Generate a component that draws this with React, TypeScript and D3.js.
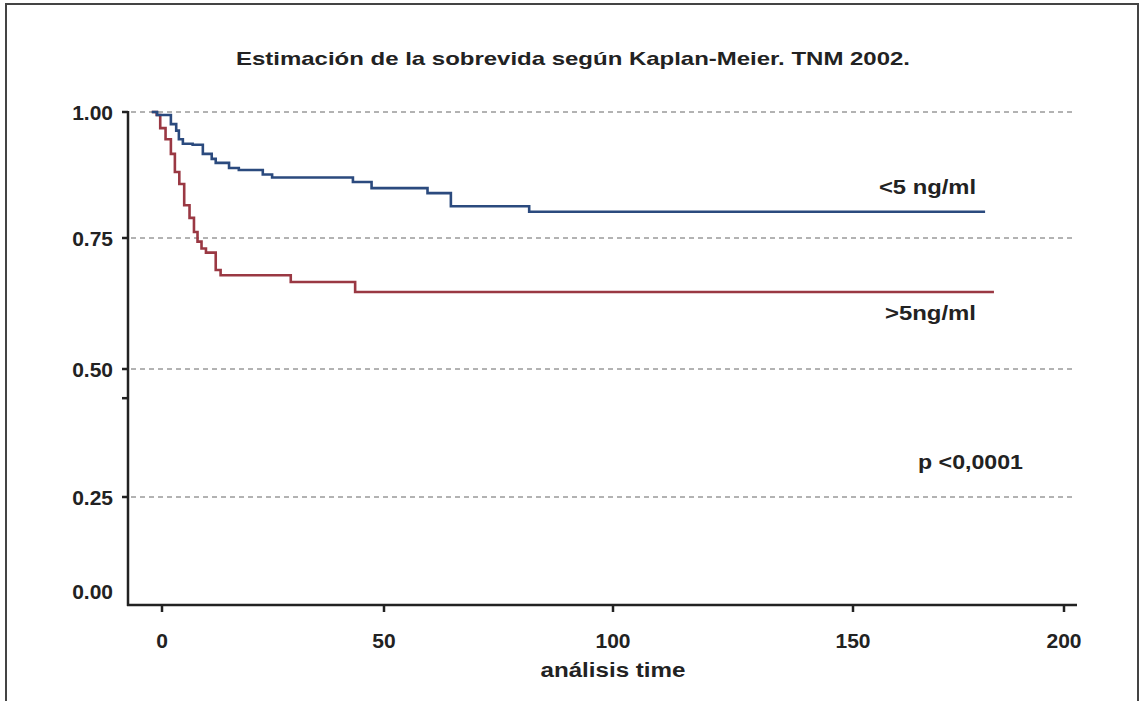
import React from "react";
import * as d3 from "d3";

// ---- data ----
const titleText = "Estimación de la sobrevida según Kaplan-Meier. TNM 2002.";
const xAxisTitle = "análisis time";
const xTicks = [0, 50, 100, 150, 200];
const yTicks = [1.0, 0.75, 0.5, 0.25, 0.0];
const yTickLabels = ["1.00", "0.75", "0.50", "0.25", "0.00"];
const yGridValues = [1.0, 0.75, 0.5, 0.25];
const yMinorTicks = [0.443];

const blueName = "<5 ng/ml";
const blueTime = [-2.3, -1.1, 2.0, 3.2, 3.8, 4.7, 6.9, 9.2, 11.2, 12.1, 15.1, 17.3, 22.7, 24.8, 43.0, 47.2, 59.5, 64.6, 81.7, 181.3];
const blueSurv = [1.0, 0.994, 0.976, 0.963, 0.946, 0.937, 0.935, 0.917, 0.907, 0.899, 0.889, 0.885, 0.876, 0.870, 0.861, 0.849, 0.839, 0.813, 0.802, 0.802];

const redName = ">5ng/ml";
const redTime = [-2.3, -1.2, -0.4, 0.8, 2.0, 2.9, 3.9, 5.0, 6.2, 7.2, 8.0, 8.9, 9.9, 12.1, 13.2, 29.0, 43.5, 183.4];
const redSurv = [1.0, 0.994, 0.968, 0.946, 0.917, 0.881, 0.857, 0.815, 0.790, 0.762, 0.743, 0.730, 0.722, 0.689, 0.679, 0.666, 0.647, 0.647];

const pText = "p <0,0001";

const W = 1141;
const H = 701;
const FONT = "'Liberation Sans', Arial, Helvetica, sans-serif";
const BLUE = "#2b4a7e";
const RED = "#9a3843";
const INK = "#222";

export default function App() {
  const x = d3.scaleLinear().domain([0, 50, 100, 150, 200]).range([162, 384, 613, 853, 1064]);
  const y = d3.scaleLinear().domain([0, 0.25, 0.5, 0.75, 1]).range([591, 497, 369, 238, 112]);

  const axisLeftX = 128;
  const axisBottomY = 605;
  const axisRightX = 1077;
  const gridRight = 1075;

  const line = d3
    .line<[number, number]>()
    .x((d) => x(d[0]))
    .y((d) => y(d[1]))
    .curve(d3.curveStepAfter);

  const blueData: [number, number][] = blueTime.map((t, i) => [t, blueSurv[i]]);
  const redData: [number, number][] = redTime.map((t, i) => [t, redSurv[i]]);

  return (
    <svg
      width={W}
      height={H}
      style={{ position: "absolute", left: 0, top: 0, background: "#fff" }}
      fontFamily={FONT}
    >
      <rect x={0} y={0} width={W} height={H} fill="#fff" />
      {/* frame */}
      <path d={`M6,${H + 5} V4 H1138 V${H + 5}`} fill="none" stroke="#444" strokeWidth={2} />

      {/* title */}
      <text
        x={573}
        y={58}
        dy="0.35em"
        textAnchor="middle"
        fontSize={19}
        fontWeight="bold"
        fill={INK}
        textLength={674}
        lengthAdjust="spacingAndGlyphs"
      >
        {titleText}
      </text>

      {/* grid lines */}
      {yGridValues.map((v) => (
        <line
          key={"g" + v}
          x1={axisLeftX + 3}
          x2={gridRight}
          y1={y(v)}
          y2={y(v)}
          stroke="#666"
          strokeWidth={1}
          strokeDasharray="5,4"
        />
      ))}

      {/* y axis */}
      <line x1={axisLeftX} x2={axisLeftX} y1={y(1) - 1} y2={axisBottomY + 1} stroke={INK} strokeWidth={2.5} />
      {yTicks.map((v, i) => (
        <g key={"yt" + v}>
          {v > 0 && (
            <line x1={axisLeftX - 6} x2={axisLeftX} y1={y(v)} y2={y(v)} stroke={INK} strokeWidth={2.5} />
          )}
          <text
            x={113}
            y={y(v)}
            dy="0.36em"
            textAnchor="end"
            fontSize={21}
            fontWeight="bold"
            fill={INK}
          >
            {yTickLabels[i]}
          </text>
        </g>
      ))}
      {yMinorTicks.map((v) => (
        <line key={"ym" + v} x1={axisLeftX - 6} x2={axisLeftX} y1={y(v)} y2={y(v)} stroke={INK} strokeWidth={2.5} />
      ))}

      {/* x axis */}
      <line x1={axisLeftX - 1} x2={axisRightX} y1={axisBottomY} y2={axisBottomY} stroke={INK} strokeWidth={2.5} />
      {xTicks.map((v) => (
        <g key={"xt" + v}>
          <line x1={x(v)} x2={x(v)} y1={axisBottomY} y2={axisBottomY + 7} stroke={INK} strokeWidth={2.5} />
          <text
            x={x(v)}
            y={640}
            dy="0.36em"
            textAnchor="middle"
            fontSize={21}
            fontWeight="bold"
            fill={INK}
          >
            {v}
          </text>
        </g>
      ))}
      <text
        x={613}
        y={670}
        dy="0.36em"
        textAnchor="middle"
        fontSize={20}
        fontWeight="bold"
        fill={INK}
        textLength={145}
        lengthAdjust="spacingAndGlyphs"
      >
        {xAxisTitle}
      </text>

      {/* curves */}
      <path d={line(redData) || ""} fill="none" stroke={RED} strokeWidth={2.6} />
      <path d={line(blueData) || ""} fill="none" stroke={BLUE} strokeWidth={2.6} />

      {/* labels */}
      <text x={879} y={187} dy="0.36em" fontSize={20} fontWeight="bold" fill={INK} textLength={97} lengthAdjust="spacingAndGlyphs">
        {blueName}
      </text>
      <text x={885} y={313} dy="0.36em" fontSize={20} fontWeight="bold" fill={INK} textLength={91} lengthAdjust="spacingAndGlyphs">
        {redName}
      </text>
      <text x={918} y={462} dy="0.36em" fontSize={20} fontWeight="bold" fill={INK} textLength={105} lengthAdjust="spacingAndGlyphs">
        {pText}
      </text>
    </svg>
  );
}
